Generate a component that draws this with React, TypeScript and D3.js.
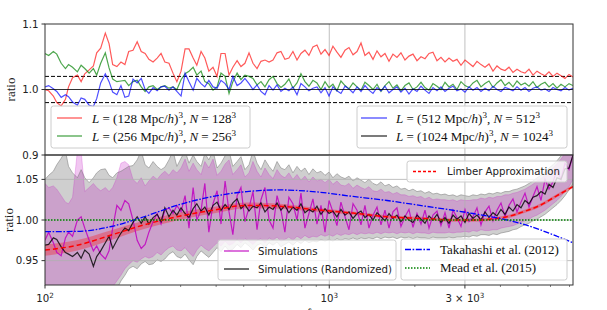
import React from "react";
import * as d3 from "d3";

// multipole grid shared by all simulation curves
const ell = [
  100, 103, 107, 110, 114, 118, 121, 125, 130, 134,
  138, 143, 148, 152, 157, 163, 168, 173, 179, 185,
  191, 197, 204, 211, 218, 225, 232, 240, 248, 256,
  264, 273, 282, 291, 301, 311, 321, 332, 342, 354,
  365, 377, 390, 403, 416, 430, 444, 458, 474, 489,
  505, 522, 539, 557, 575, 594, 614, 634, 655, 676,
  698, 721, 745, 770, 795, 821, 848, 876, 905, 935,
  966, 998, 1030, 1064, 1099, 1136, 1173, 1212, 1252, 1293,
  1335, 1379, 1425, 1472, 1520, 1570, 1622, 1675, 1730, 1787,
  1846, 1907, 1970, 2035, 2102, 2171, 2243, 2316, 2393, 2471,
  2553, 2637, 2724, 2813, 2906, 3002, 3101, 3203, 3308, 3417,
  3530, 3646, 3766, 3890, 4018, 4151, 4287, 4428, 4574, 4725,
  4880, 5041, 5207, 5379, 5556, 5739, 5928, 6123, 6325, 6533,
  6748, 6971, 7200,
];

// top panel: box-size ratios
const ratio128 = [
  1.0, 0.998, 0.99, 0.98, 0.975, 0.985, 1.004, 1.018, 1.022, 1.012,
  1.024, 1.03, 1.036, 1.056, 1.063, 1.086, 1.07, 1.038, 1.035, 1.042,
  1.038, 1.058, 1.06, 1.073, 1.058, 1.055, 1.046, 1.042, 1.048, 1.055,
  1.042, 1.04, 1.025, 1.012, 1.028, 1.062, 1.062, 1.048, 1.037, 1.058,
  1.048, 1.028, 1.034, 1.02, 1.055, 1.055, 1.022, 1.034, 1.044, 1.035,
  1.04, 1.056, 1.04, 1.032, 1.043, 1.045, 1.042, 1.045, 1.056, 1.058,
  1.046, 1.048, 1.058, 1.045, 1.055, 1.06, 1.052, 1.065, 1.068, 1.054,
  1.061, 1.052, 1.066, 1.057, 1.049, 1.06, 1.064, 1.053, 1.058, 1.071,
  1.052, 1.057, 1.046, 1.059, 1.05, 1.055, 1.043, 1.054, 1.049, 1.056,
  1.045, 1.051, 1.054, 1.044, 1.05, 1.047, 1.055, 1.057, 1.044, 1.049,
  1.042, 1.048, 1.043, 1.046, 1.037, 1.045, 1.04, 1.035, 1.043, 1.038,
  1.034, 1.039, 1.028, 1.036, 1.031, 1.029, 1.034, 1.026, 1.031, 1.027,
  1.025, 1.031, 1.022, 1.028, 1.024, 1.021, 1.027, 1.02, 1.025, 1.021,
  1.017, 1.023, 1.019,
];
const ratio256 = [
  1.055, 1.052, 1.058, 1.054, 1.04, 1.032, 1.038, 1.034, 1.027, 1.037,
  1.032, 1.025, 1.032, 1.022, 1.04, 1.056, 1.033, 1.016, 1.012, 1.013,
  1.014, 1.006, 1.012, 1.014, 1.004, 0.997, 1.004, 1.006, 1.0, 1.004,
  1.006, 1.002, 1.004, 1.0, 1.015, 1.024, 1.028, 1.034, 1.022, 1.028,
  1.012, 1.009, 0.999, 1.004, 1.025, 1.02, 0.994, 1.012, 1.025, 1.015,
  1.022, 1.02, 1.017, 1.007, 1.012, 1.004, 1.015, 1.02, 1.009, 1.003,
  1.008, 1.016, 1.002, 1.01, 1.024, 1.012, 1.005, 1.014, 1.01, 1.0,
  1.012, 1.003, 1.008, 0.998, 1.013, 1.006, 1.001, 1.01, 1.004, 0.999,
  1.011, 1.006, 1.0, 1.008, 0.997, 1.006, 1.012, 1.002, 1.007, 0.998,
  1.006, 1.01, 1.0, 1.004, 1.011, 1.003, 0.999, 1.009, 1.005, 1.0,
  1.011, 1.004, 1.008, 1.0, 1.012, 1.006, 1.003, 1.01, 1.014, 1.004,
  1.009, 1.013, 1.003, 1.01, 1.015, 1.006, 1.011, 1.004, 1.013, 1.007,
  1.01, 1.005, 1.012, 1.003, 1.008, 1.011, 1.004, 1.009, 1.002, 1.008,
  1.004, 1.009, 1.006,
];
const ratio512 = [
  1.004, 1.006, 1.001, 0.997, 0.988, 0.992, 0.989, 0.981, 0.976, 0.987,
  0.985, 0.976, 0.974, 0.986, 1.01, 1.024, 1.012, 0.996, 0.992, 1.006,
  0.988, 0.99, 1.016, 1.01, 1.017, 1.0, 0.994, 1.003, 0.998, 1.004,
  1.005, 0.999, 1.004, 0.997, 0.99, 1.025, 1.012, 0.999, 1.017, 1.009,
  1.004, 1.014, 1.004, 1.002, 1.014, 1.009, 1.0, 1.02, 1.006, 1.01,
  1.017, 1.009, 1.0, 1.007, 0.997, 0.992, 1.006, 0.999, 1.007, 0.997,
  1.002, 0.998, 1.004, 0.992, 1.009, 1.004, 0.998, 1.002, 1.004, 0.995,
  1.003, 0.99, 1.004, 0.998, 0.994, 1.005, 1.001, 0.995, 1.004, 0.997,
  1.006, 0.999, 0.994, 1.003, 0.998, 1.005, 0.995, 1.0, 1.004, 0.996,
  1.002, 0.993, 1.001, 0.997, 1.005, 0.999, 0.994, 1.003, 0.998, 1.004,
  0.997, 1.002, 1.005, 0.998, 1.001, 0.996, 1.004, 0.999, 1.003, 0.997,
  1.002, 0.998, 1.005, 1.0, 0.997, 1.003, 1.001, 0.998, 1.004, 0.999,
  1.003, 0.997, 1.002, 1.004, 0.999, 1.001, 0.997, 1.003, 1.0, 0.998,
  1.003, 0.999, 1.002,
];
const ratio1024Ell = [100, 7200];
const ratio1024 = [1.0, 1.0];

// bottom panel: simulations / theory
const simMean = [
  0.975, 0.985, 0.972, 0.96, 0.956, 0.978, 0.985, 0.98, 1.0, 1.004,
  0.99, 0.975, 0.962, 0.968, 0.958, 0.952, 0.962, 0.99, 1.018, 1.012,
  1.024, 1.02, 1.0, 0.975, 0.965, 0.97, 0.985, 0.998, 1.008, 0.995,
  1.012, 1.015, 1.008, 1.018, 1.01,
  1.03, 0.99, 1.04, 1.0, 1.012, 1.045, 0.985, 1.02, 1.036, 0.995,
  1.048, 1.01, 0.982, 1.03, 1.04, 0.998, 1.015, 1.035, 0.988, 1.025,
  1.04, 1.0, 0.99, 1.03, 1.012, 0.985, 1.028, 1.02, 1.0, 1.033,
  0.99, 1.008, 1.026, 0.995, 1.018, 0.985, 1.024, 1.01, 0.993, 1.022,
  1.004, 0.988, 1.02, 1.012, 0.994, 1.018, 0.99, 1.006, 1.016, 0.994,
  1.012, 0.99, 1.01, 1.015, 0.992, 1.004, 1.013, 0.991, 1.008, 0.995,
  1.012, 0.99, 1.006, 1.011, 0.993, 1.009, 0.99, 1.012, 1.003, 0.992,
  1.013, 0.998, 1.004, 1.015, 0.994, 1.01, 1.017, 0.999, 1.012, 1.021,
  1.004, 1.018, 1.026, 1.01, 1.022, 1.033, 1.016, 1.029, 1.041, 1.024,
  1.05, 1.038, 1.047, 1.062, 1.05, 1.07, 1.062, 1.08,
];
const simHigh = [
  1.045, 1.04, 1.042, 1.038, 1.03, 1.022, 1.02, 1.028, 1.085, 1.085,
  1.035, 1.04, 1.045, 1.04, 1.036, 1.04, 1.035, 1.04, 1.052, 1.07,
  1.072, 1.068, 1.05, 1.045, 1.052, 1.042, 1.048, 1.054, 1.05, 1.056,
  1.06, 1.055, 1.062, 1.058, 1.064,
  1.075, 1.06, 1.07, 1.062, 1.056, 1.072, 1.064, 1.075, 1.055, 1.06,
  1.069, 1.074, 1.056, 1.062, 1.068, 1.053, 1.058, 1.072, 1.06, 1.053,
  1.064, 1.056, 1.051, 1.062, 1.055,
  1.052, 1.058, 1.05, 1.056, 1.049, 1.054, 1.047, 1.053, 1.048, 1.05,
  1.046, 1.05, 1.044, 1.048, 1.043, 1.042, 1.045, 1.039, 1.043, 1.04,
  1.038, 1.041, 1.036, 1.035, 1.038, 1.034, 1.035, 1.032, 1.034, 1.031,
  1.031, 1.029, 1.03, 1.028, 1.029, 1.026, 1.028, 1.025, 1.026, 1.025,
  1.025, 1.024, 1.025, 1.023, 1.025, 1.024, 1.024, 1.025, 1.025, 1.027,
  1.026, 1.028, 1.027, 1.029, 1.029, 1.031, 1.031, 1.033, 1.034, 1.036,
  1.038, 1.041, 1.044, 1.048, 1.051, 1.055, 1.06, 1.064, 1.069, 1.075,
  1.082, 1.088, 1.096,
];
const simLow = [
  0.9, 0.9, 0.9, 0.9, 0.9, 0.9, 0.9, 0.9, 0.9, 0.9,
  0.9, 0.9, 0.9, 0.91, 0.915, 0.905, 0.91, 0.918, 0.925, 0.932,
  0.94, 0.945, 0.95, 0.948, 0.952, 0.955, 0.953, 0.955, 0.96, 0.957,
  0.962, 0.966, 0.968, 0.963, 0.962,
  0.966, 0.96, 0.955, 0.963, 0.969, 0.965, 0.962, 0.967, 0.972, 0.968,
  0.974, 0.969, 0.971, 0.976, 0.972, 0.977, 0.974, 0.97, 0.975, 0.977,
  0.972, 0.978, 0.975, 0.979, 0.974,
  0.976, 0.979, 0.975, 0.98, 0.977, 0.981, 0.978, 0.98, 0.979, 0.982,
  0.98, 0.982, 0.98, 0.983, 0.981, 0.983, 0.982, 0.984, 0.982, 0.984,
  0.983, 0.984, 0.983, 0.985, 0.983, 0.985, 0.984, 0.985, 0.983, 0.985,
  0.984, 0.985, 0.983, 0.985, 0.984, 0.984, 0.983, 0.985, 0.984, 0.984,
  0.984, 0.985, 0.984, 0.985, 0.985, 0.986, 0.985, 0.987, 0.986, 0.988,
  0.987, 0.987, 0.988, 0.988, 0.99, 0.991, 0.992, 0.993, 0.995, 0.997,
  0.999, 1.001, 1.004, 1.006, 1.009, 1.012, 1.016, 1.02, 1.024, 1.029,
  1.035, 1.041, 1.05,
];
const randMean = [
  0.969, 0.97, 0.978, 0.976, 0.967, 0.96, 0.958, 0.955, 0.96, 0.953,
  0.963, 0.958, 0.943, 0.955, 0.962, 0.972, 0.98, 0.965, 0.975, 0.984,
  0.99, 0.987, 0.997, 1.004, 0.996, 1.004, 0.995, 1.003, 1.007, 0.998,
  1.015, 1.004, 1.012, 1.006, 1.015,
  1.008, 1.003, 1.014, 1.02, 1.011, 1.016, 1.006, 1.018, 1.022, 1.012,
  1.019, 1.013, 1.021, 1.026, 1.014, 1.019, 1.011, 1.017, 1.015, 1.021,
  1.01, 1.016, 1.013, 1.021, 1.012, 1.018, 1.009, 1.016, 1.012, 1.02,
  1.009, 1.013, 1.01, 1.017, 1.007, 1.014, 1.008, 1.011, 1.004, 1.013,
  1.006, 1.01, 1.002, 1.008, 1.011, 1.003, 1.007, 1.0, 1.009, 1.004,
  0.999, 1.008, 1.002, 1.006, 0.998, 1.005, 1.0, 0.997, 1.006, 1.001,
  0.996, 1.005, 1.0, 1.007, 0.997, 1.003, 0.996, 1.006, 1.001, 1.005,
  0.997, 1.008, 1.002, 1.006, 1.0, 1.01, 1.003, 1.009, 1.005, 1.013,
  1.007, 1.016, 1.011, 1.019, 1.015, 1.024, 1.02, 1.028, 1.03, 1.035,
  1.032, 1.044, 1.04, 1.052, 1.05, 1.063, 1.064, 1.08,
];
const randHigh = [
  1.05, 1.055, 1.06, 1.068, 1.076, 1.085, 1.066, 1.058, 1.052, 1.062,
  1.052, 1.046, 1.052, 1.058, 1.062, 1.063, 1.055, 1.052, 1.058, 1.06,
  1.063, 1.066, 1.067, 1.074, 1.085, 1.068, 1.064, 1.072, 1.066, 1.062,
  1.065, 1.074, 1.085, 1.066, 1.076,
  1.085, 1.07, 1.08, 1.072, 1.066, 1.082, 1.074, 1.085, 1.064, 1.07,
  1.079, 1.085, 1.066, 1.072, 1.078, 1.062, 1.068, 1.085, 1.07, 1.062,
  1.074, 1.066, 1.06, 1.072, 1.064,
  1.062, 1.068, 1.058, 1.066, 1.06, 1.064, 1.056, 1.063, 1.058, 1.06,
  1.055, 1.059, 1.052, 1.057, 1.053, 1.051, 1.054, 1.048, 1.052, 1.049,
  1.046, 1.05, 1.045, 1.043, 1.047, 1.042, 1.044, 1.04, 1.042, 1.038,
  1.039, 1.036, 1.038, 1.035, 1.036, 1.033, 1.035, 1.032, 1.033, 1.031,
  1.032, 1.03, 1.031, 1.029, 1.031, 1.03, 1.029, 1.031, 1.03, 1.032,
  1.031, 1.033, 1.032, 1.034, 1.033, 1.035, 1.035, 1.037, 1.038, 1.04,
  1.042, 1.045, 1.048, 1.052, 1.055, 1.059, 1.064, 1.068, 1.073, 1.079,
  1.086, 1.092, 1.1,
];
const randLow = [
  0.9, 0.9, 0.9, 0.9, 0.9, 0.9, 0.9, 0.9, 0.9, 0.9,
  0.9, 0.9, 0.9, 0.9, 0.9, 0.9, 0.9, 0.9, 0.915, 0.925,
  0.932, 0.94, 0.943, 0.94, 0.946, 0.949, 0.945, 0.946, 0.951, 0.949,
  0.952, 0.958, 0.961, 0.955, 0.953,
  0.958, 0.951, 0.945, 0.955, 0.962, 0.958, 0.954, 0.96, 0.966, 0.961,
  0.968, 0.962, 0.964, 0.97, 0.966, 0.972, 0.968, 0.963, 0.969, 0.971,
  0.966, 0.972, 0.969, 0.973, 0.967,
  0.97, 0.973, 0.969, 0.974, 0.971, 0.975, 0.972, 0.974, 0.973, 0.976,
  0.974, 0.976, 0.974, 0.977, 0.975, 0.977, 0.976, 0.978, 0.976, 0.978,
  0.977, 0.978, 0.977, 0.979, 0.977, 0.979, 0.978, 0.979, 0.977, 0.979,
  0.978, 0.979, 0.977, 0.979, 0.978, 0.978, 0.977, 0.979, 0.978, 0.978,
  0.978, 0.979, 0.978, 0.979, 0.979, 0.98, 0.979, 0.981, 0.98, 0.982,
  0.982, 0.981, 0.983, 0.982, 0.984, 0.985, 0.986, 0.988, 0.989, 0.992,
  0.994, 0.996, 0.999, 1.001, 1.004, 1.007, 1.011, 1.015, 1.019, 1.024,
  1.03, 1.037, 1.045,
];

const theoryEll = [100, 130, 171, 223, 291, 390, 513, 671, 876, 1212, 1596, 2084, 2723, 3203, 4217, 4802, 5510, 6323, 7200];
const limber = [0.963, 0.969, 0.9815, 0.994, 1.004, 1.012, 1.018, 1.017, 1.013, 1.0085, 1.004, 1.002, 1.0, 1.0, 1.004, 1.01, 1.018, 1.03, 1.041];
const limberErr = [0.007, 0.0065, 0.006, 0.005, 0.0045, 0.004, 0.0035, 0.003, 0.0025, 0.002, 0.002, 0.002, 0.002, 0.002, 0.002, 0.002, 0.002, 0.002, 0.002];
const takahashi = [0.9856, 0.986, 0.992, 1.004, 1.018, 1.029, 1.035, 1.037, 1.035, 1.029, 1.024, 1.018, 1.012, 1.008, 1.0, 0.995, 0.988, 0.98, 0.972];
const meadEll = [100, 7200];
const mead = [1.0, 1.0];

const xMajor = [100, 1000, 3000];
const xMinor = [200, 300, 400, 500, 600, 700, 800, 900, 2000, 4000, 5000, 6000, 7000];
const xGrid = [1000, 3000];
const yTopTicks = [0.9, 1.0, 1.1];
const yTopLabels = ["0.9", "1.0", "1.1"];
const yBotTicks = [0.95, 1.0, 1.05];
const yBotLabels = ["0.95", "1.00", "1.05"];
const tolerance = [0.98, 1.02];

const serif = "'Liberation Serif', 'Times New Roman', serif";
const sans = "'DejaVu Sans', Verdana, sans-serif";

function BoxLabel({ x, y, size }: { x: number; y: number; size: string }) {
  return (
    <text x={x} y={y} fontFamily={serif} fontSize={13} fill="#111" style={{ whiteSpace: "pre" }}>
      <tspan fontStyle="italic">L</tspan>
      <tspan>{` = (${size} Mpc/`}</tspan>
      <tspan fontStyle="italic">h</tspan>
      <tspan>)</tspan>
      <tspan dy={-5} fontSize={9}>3</tspan>
      <tspan dy={5}>{", "}</tspan>
      <tspan fontStyle="italic">N</tspan>
      <tspan>{` = ${size}`}</tspan>
      <tspan dy={-5} fontSize={9}>3</tspan>
    </text>
  );
}

export default function App() {
  const x = d3.scaleLog().domain([100, 7200]).range([45, 573]);
  const yTop = d3.scaleLinear().domain([0.9, 1.1]).range([155, 24]);
  const yBot = d3.scaleLinear().domain([0.92, 1.08]).range([285, 155]);

  const path = (y: d3.ScaleLinear<number, number>, xs: number[], ys: number[], curve: d3.CurveFactory = d3.curveLinear) =>
    d3.line<number>().x((_, i) => x(xs[i])).y((v) => y(v)).curve(curve)(ys) || "";

  const band = (xs: number[], lo: number[], hi: number[], curve: d3.CurveFactory = d3.curveLinear) =>
    d3.area<number>().x((_, i) => x(xs[i])).y0((_, i) => yBot(lo[i])).y1((v) => yBot(v)).curve(curve)(hi) || "";

  const limberLo = limber.map((v, i) => v - limberErr[i]);
  const limberHi = limber.map((v, i) => v + limberErr[i]);

  const gridColor = "#b0b0b0";
  const magenta = "#bf00bf";
  const dashDot = "6,1.6,1.6,1.6";

  return (
    <svg width={607} height={310} style={{ position: "absolute", left: 0, top: 0, background: "#fff" }}>
      <defs>
        <clipPath id="clipTop"><rect x={45} y={24} width={528} height={131} /></clipPath>
        <clipPath id="clipBot"><rect x={45} y={155} width={528} height={130} /></clipPath>
      </defs>

      {/* ---------- top panel ---------- */}
      <g clipPath="url(#clipTop)">
        {xGrid.map((t) => (
          <line key={t} x1={x(t)} x2={x(t)} y1={24} y2={155} stroke={gridColor} strokeWidth={0.8} />
        ))}
        {tolerance.map((t) => (
          <line key={t} x1={45} x2={573} y1={yTop(t)} y2={yTop(t)} stroke="#000" strokeWidth={1} strokeDasharray="4,2" />
        ))}
        <path d={path(yTop, ell, ratio128)} fill="none" stroke="red" strokeOpacity={0.65} strokeWidth={1.2} />
        <path d={path(yTop, ell, ratio256)} fill="none" stroke="green" strokeOpacity={0.7} strokeWidth={1.2} />
        <path d={path(yTop, ell, ratio512)} fill="none" stroke="blue" strokeOpacity={0.7} strokeWidth={1.2} />
        <path d={path(yTop, ratio1024Ell, ratio1024)} fill="none" stroke="#000" strokeOpacity={0.8} strokeWidth={1.2} />
      </g>
      <rect x={45} y={24} width={528} height={131} fill="none" stroke="#333" strokeWidth={1} />
      {yTopTicks.map((t, i) => (
        <g key={t}>
          <line x1={41.5} x2={45} y1={yTop(t)} y2={yTop(t)} stroke="#333" />
          <text x={38.5} y={yTop(t) + 3.7} textAnchor="end" fontFamily={sans} fontSize={10.2} fill="#222">{yTopLabels[i]}</text>
        </g>
      ))}
      <text transform="translate(15,89.5) rotate(-90)" textAnchor="middle" fontFamily={serif} fontSize={13} fill="#222">ratio</text>

      {/* top legends */}
      <rect x={51} y={106} width={199} height={42} rx={2.5} fill="#fff" fillOpacity={0.8} stroke="#ccc" />
      <line x1={57} x2={82} y1={118} y2={118} stroke="red" strokeOpacity={0.65} strokeWidth={1.3} />
      <line x1={57} x2={82} y1={136} y2={136} stroke="green" strokeOpacity={0.7} strokeWidth={1.3} />
      <BoxLabel x={92} y={122.5} size="128" />
      <BoxLabel x={92} y={140.5} size="256" />
      <rect x={357} y={106} width={210} height={42} rx={2.5} fill="#fff" fillOpacity={0.8} stroke="#ccc" />
      <line x1={361} x2={387} y1={118} y2={118} stroke="blue" strokeOpacity={0.7} strokeWidth={1.3} />
      <line x1={361} x2={387} y1={136} y2={136} stroke="#000" strokeOpacity={0.8} strokeWidth={1.3} />
      <BoxLabel x={396} y={122.5} size="512" />
      <BoxLabel x={396} y={140.5} size="1024" />

      {/* ---------- bottom panel ---------- */}
      <g clipPath="url(#clipBot)">
        <path d={band(ell, randLow, randHigh)} fill="#808080" fillOpacity={0.38} />
        <path d={band(ell, simLow, simHigh)} fill={magenta} fillOpacity={0.22} />
        <path d={path(yBot, ell, randHigh)} fill="none" stroke="#808080" strokeOpacity={0.8} strokeWidth={0.7} />
        <path d={path(yBot, ell, randLow)} fill="none" stroke="#808080" strokeOpacity={0.8} strokeWidth={0.7} />
        <path d={path(yBot, ell, simHigh)} fill="none" stroke={magenta} strokeOpacity={0.3} strokeWidth={0.7} />
        <path d={path(yBot, ell, simLow)} fill="none" stroke={magenta} strokeOpacity={0.3} strokeWidth={0.7} />
        {xGrid.map((t) => (
          <line key={t} x1={x(t)} x2={x(t)} y1={155} y2={285} stroke={gridColor} strokeWidth={0.8} />
        ))}
        {yBotTicks.map((t) => (
          <line key={t} x1={45} x2={573} y1={yBot(t)} y2={yBot(t)} stroke={gridColor} strokeWidth={0.8} />
        ))}
        <path d={band(theoryEll, limberLo, limberHi, d3.curveMonotoneX)} fill="red" fillOpacity={0.3} />
        <path d={path(yBot, ell, simMean)} fill="none" stroke={magenta} strokeOpacity={0.85} strokeWidth={1.2} />
        <path d={path(yBot, ell, randMean)} fill="none" stroke="#000" strokeOpacity={0.8} strokeWidth={1.2} />
        <path d={path(yBot, theoryEll, limber, d3.curveMonotoneX)} fill="none" stroke="red" strokeWidth={1.5} strokeDasharray="5,3" />
        <path d={path(yBot, theoryEll, takahashi, d3.curveMonotoneX)} fill="none" stroke="blue" strokeWidth={1.3} strokeDasharray={dashDot} />
        <path d={path(yBot, meadEll, mead)} fill="none" stroke="green" strokeWidth={1.3} strokeDasharray="1.5,1.5" />
      </g>
      <rect x={45} y={155} width={528} height={130} fill="none" stroke="#333" strokeWidth={1} />
      {yBotTicks.map((t, i) => (
        <g key={t}>
          <line x1={41.5} x2={45} y1={yBot(t)} y2={yBot(t)} stroke="#333" />
          <text x={38.5} y={yBot(t) + 3.7} textAnchor="end" fontFamily={sans} fontSize={10.2} fill="#222">{yBotLabels[i]}</text>
        </g>
      ))}
      <text transform="translate(12.5,220) rotate(-90)" textAnchor="middle" fontFamily={serif} fontSize={13} fill="#222">ratio</text>

      {/* x axis */}
      {xMajor.map((t) => (
        <line key={t} x1={x(t)} x2={x(t)} y1={285} y2={288.5} stroke="#333" />
      ))}
      {xMinor.map((t) => (
        <line key={t} x1={x(t)} x2={x(t)} y1={285} y2={287} stroke="#333" strokeWidth={0.6} />
      ))}
      <text x={x(100)} y={302} textAnchor="middle" fontFamily={sans} fontSize={10.2} fill="#222">
        10<tspan dy={-4.5} fontSize={7.2}>2</tspan>
      </text>
      <text x={x(1000)} y={302} textAnchor="middle" fontFamily={sans} fontSize={10.2} fill="#222">
        10<tspan dy={-4.5} fontSize={7.2}>3</tspan>
      </text>
      <text x={x(3000)} y={302} textAnchor="middle" fontFamily={sans} fontSize={10.2} fill="#222" style={{ whiteSpace: "pre" }}>
        {"3 \u00d7 10"}<tspan dy={-4.5} fontSize={7.2}>3</tspan>
      </text>
      <text x={309} y={317} textAnchor="middle" fontFamily={serif} fontStyle="italic" fontSize={13} fill="#222">ℓ</text>

      {/* bottom legends */}
      <rect x={407} y={161} width={160} height={21} rx={2.5} fill="#fff" fillOpacity={0.8} stroke="#ccc" />
      <line x1={413} x2={437} y1={171.5} y2={171.5} stroke="red" strokeWidth={1.5} strokeDasharray="3,2" />
      <text x={447} y={175.3} fontFamily={sans} fontSize={10.2} fill="#222">Limber Approximation</text>

      <rect x={218} y={240} width={178} height={40} rx={2.5} fill="#fff" fillOpacity={0.8} stroke="#ccc" />
      <line x1={224} x2={249} y1={251} y2={251} stroke={magenta} strokeOpacity={0.85} strokeWidth={1.3} />
      <line x1={224} x2={249} y1={269} y2={269} stroke="#000" strokeOpacity={0.85} strokeWidth={1.3} />
      <text x={258} y={254.8} fontFamily={sans} fontSize={10.2} fill="#222">Simulations</text>
      <text x={258} y={272.8} fontFamily={sans} fontSize={10.2} fill="#222">Simulations (Randomized)</text>

      <rect x={401} y={239} width={166} height={41} rx={2.5} fill="#fff" fillOpacity={0.8} stroke="#ccc" />
      <line x1={405} x2={430} y1={249.5} y2={249.5} stroke="blue" strokeWidth={1.3} strokeDasharray={dashDot} />
      <line x1={405} x2={430} y1={268} y2={268} stroke="green" strokeWidth={1.3} strokeDasharray="1.5,1.5" />
      <text x={440} y={253.8} fontFamily={serif} fontSize={13} fill="#111">Takahashi et al. (2012)</text>
      <text x={440} y={272.3} fontFamily={serif} fontSize={13} fill="#111">Mead et al. (2015)</text>
    </svg>
  );
}
